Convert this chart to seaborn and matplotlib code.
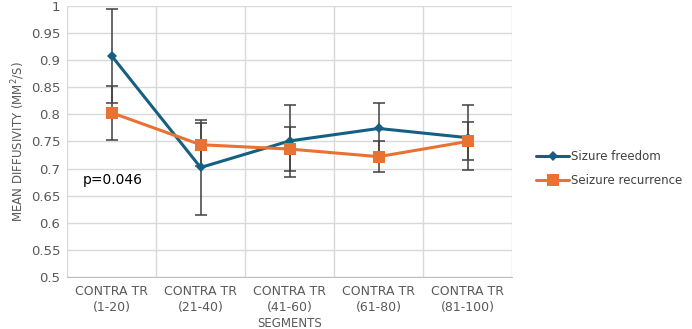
import matplotlib
matplotlib.use('Agg')
import matplotlib.pyplot as plt
import seaborn as sns
import pandas as pd
import numpy as np

segments = ['CONTRA TR\n(1-20)', 'CONTRA TR\n(21-40)', 'CONTRA TR\n(41-60)',
            'CONTRA TR\n(61-80)', 'CONTRA TR\n(81-100)']
freedom = [0.908, 0.702, 0.751, 0.774, 0.757]
freedom_err = [0.087, 0.088, 0.067, 0.047, 0.060]
recurrence = [0.803, 0.744, 0.736, 0.722, 0.750]
recurrence_err = [0.050, 0.040, 0.040, 0.028, 0.035]

BLUE = '#156082'
ORANGE = '#E97132'

sns.set_style('white')
plt.rcParams['font.family'] = ['DejaVu Sans']

df = pd.DataFrame({
    'segment': segments * 2,
    'md': freedom + recurrence,
    'group': ['Sizure freedom'] * 5 + ['Seizure recurrence'] * 5,
})

fig = plt.figure(figsize=(6.92, 3.29), dpi=100)
ax = fig.add_axes([0.097, 0.158, 0.643, 0.824])

# error bars first so the lines sit on top
xpos = np.arange(len(segments))
ax.errorbar(xpos, freedom, yerr=freedom_err, fmt='none', ecolor='#404040',
            elinewidth=1.1, capsize=4, capthick=1.1, zorder=2)
ax.errorbar(xpos, recurrence, yerr=recurrence_err, fmt='none', ecolor='#404040',
            elinewidth=1.1, capsize=4, capthick=1.1, zorder=2)

sns.lineplot(data=df, x='segment', y='md', hue='group', style='group',
             markers={'Sizure freedom': 'D', 'Seizure recurrence': 's'},
             dashes=False, palette={'Sizure freedom': BLUE, 'Seizure recurrence': ORANGE},
             linewidth=2.2, markeredgewidth=0, ax=ax, zorder=3)
# marker sizes per series
for ln in ax.lines:
    c = matplotlib.colors.to_hex(ln.get_color()).lower()
    if c == BLUE.lower():
        ln.set_markersize(5)
    elif c == ORANGE.lower():
        ln.set_markersize(9)

ax.set_xlim(-0.5, 4.5)
ax.set_ylim(0.5, 1.0)
ax.set_yticks(np.arange(0.5, 1.0001, 0.05))
ax.set_yticklabels(['0.5', '0.55', '0.6', '0.65', '0.7', '0.75', '0.8', '0.85', '0.9', '0.95', '1'])
ax.set_xticks(xpos)
ax.set_xticklabels(segments, fontsize=9, color='#595959', linespacing=1.25)
ax.set_xticks(np.arange(-0.5, 4.6, 1), minor=True)
ax.tick_params(axis='x', which='major', length=0, pad=6)
ax.tick_params(axis='x', which='minor', length=4, color='#BFBFBF')
ax.tick_params(axis='y', length=3, color='#BFBFBF', labelsize=9.5, labelcolor='#595959', pad=2)
ax.grid(axis='y', color='#D9D9D9', linewidth=1)
ax.grid(axis='x', which='minor', color='#D9D9D9', linewidth=1)
for s in ['top', 'right', 'left']:
    ax.spines[s].set_visible(False)
ax.spines['bottom'].set_color('#BFBFBF')

ax.set_xlabel('SEGMENTS', fontsize=8.5, color='#595959', labelpad=2)
ax.set_ylabel('MEAN DIFFUSIVITY (MM$^2$/S)', fontsize=8.5, color='#595959', labelpad=3)

ax.text(-0.33, 0.679, 'p=0.046', fontsize=10, color='black', va='center')

handles, labels = ax.get_legend_handles_labels()
ax.legend(handles, labels, loc='center left', bbox_to_anchor=(1.03, 0.40),
          frameon=False, fontsize=8.5, labelcolor='#404040', handlelength=2.8,
          handletextpad=0.2, labelspacing=0.9)

plt.savefig('out.png', dpi=100)
